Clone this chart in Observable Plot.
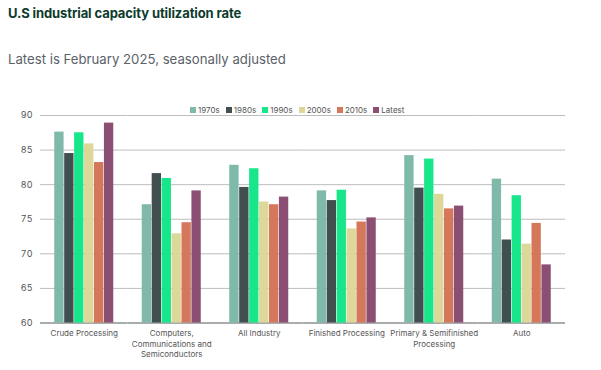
<!DOCTYPE html>
<html>
<head>
<meta charset="utf-8">
<script src="https://cdn.jsdelivr.net/npm/d3@7"></script>
<script src="https://cdn.jsdelivr.net/npm/@observablehq/plot@0.6"></script>
<style>
  body { margin: 0; background: #fff; font-family: Inter, "Noto Sans", sans-serif; }
  #wrap { position: relative; width: 601px; height: 370px; }
  #title { position: absolute; left: 8px; top: 5px; font-size: 13px; font-weight: 700; color: #0d3b2e; letter-spacing: -0.1px; }
  #subtitle { position: absolute; left: 8px; top: 51px; font-size: 13.2px; color: #5b6168; }
  #legend { position: absolute; top: 105px; left: 190px; display: flex; font-size: 8px; color: #555; }
  #legend span.item { display: flex; align-items: center; margin-right: 6px; }
  #legend span.sw { width: 6px; height: 6px; margin-right: 2px; display: inline-block; }
  #chart { position: absolute; left: 0; top: 0; }
</style>
</head>
<body>
<div id="wrap">
  <div id="chart"></div>
  <div id="title">U.S industrial capacity utilization rate</div>
  <div id="subtitle">Latest is February 2025, seasonally adjusted</div>
  <div id="legend"></div>
</div>
<script>
const categories = ["Crude Processing", "Computers,\nCommunications and\nSemiconductors", "All Industry", "Finished Processing", "Primary & Semifinished\nProcessing", "Auto"];
const series = ["1970s", "1980s", "1990s", "2000s", "2010s", "Latest"];
const colors = ["#7fb9a9", "#414f51", "#17e68b", "#ddd89a", "#d4775a", "#8a4f73"];
const v1970s = [87.6, 77.1, 82.8, 79.1, 84.2, 80.8];
const v1980s = [84.5, 81.6, 79.6, 77.7, 79.5, 72.0];
const v1990s = [87.5, 80.9, 82.3, 79.2, 83.7, 78.4];
const v2000s = [85.9, 72.9, 77.5, 73.6, 78.6, 71.4];
const v2010s = [83.2, 74.5, 77.1, 74.6, 76.5, 74.4];
const vLatest = [88.9, 79.1, 78.2, 75.2, 76.9, 68.4];
const yTicks = [60, 65, 70, 75, 80, 85, 90];

const valuesBySeries = [v1970s, v1980s, v1990s, v2000s, v2010s, vLatest];
const data = [];
categories.forEach((c, i) => series.forEach((s, j) => data.push({category: c, series: s, value: valuesBySeries[j][i]})));
const yMin = yTicks[0], yMax = yTicks[yTicks.length - 1];

const chart = Plot.plot({
  width: 601,
  height: 370,
  marginTop: 115,
  marginBottom: 47.5,
  marginLeft: 40,
  marginRight: 36,
  style: {fontFamily: "Inter, 'Noto Sans', sans-serif", color: "#555"},
  fx: {domain: categories, padding: 0, round: false, label: null},
  x: {domain: series, padding: 0.06, round: false, insetLeft: 13.65, insetRight: 13.65, axis: null},
  y: {domain: [yMin, yMax], ticks: yTicks, label: null},
  color: {domain: series, range: colors},
  marks: [
    Plot.ruleY(yTicks.slice(1), {stroke: "#bdbdbd", strokeWidth: 1}),
    Plot.ruleY([yMin], {stroke: "#8c9092", strokeWidth: 1.5}),
    Plot.axisY({ticks: yTicks, tickSize: 0, tickPadding: 8, fontSize: 9, fill: "#555", label: null}),
    Plot.barY(data, {fx: "category", x: "series", y1: yMin, y2: "value", fill: "series"}),
    Plot.axisFx({anchor: "bottom", tickSize: 0, tickPadding: 6, fontSize: 8, lineHeight: 1.3, fill: "#555", label: null})
  ]
});
document.getElementById("chart").appendChild(chart);

const legend = document.getElementById("legend");
series.forEach((s, i) => {
  const item = document.createElement("span");
  item.className = "item";
  item.innerHTML = `<span class="sw" style="background:${colors[i]}"></span>${s}`;
  legend.appendChild(item);
});
</script>
</body>
</html>
